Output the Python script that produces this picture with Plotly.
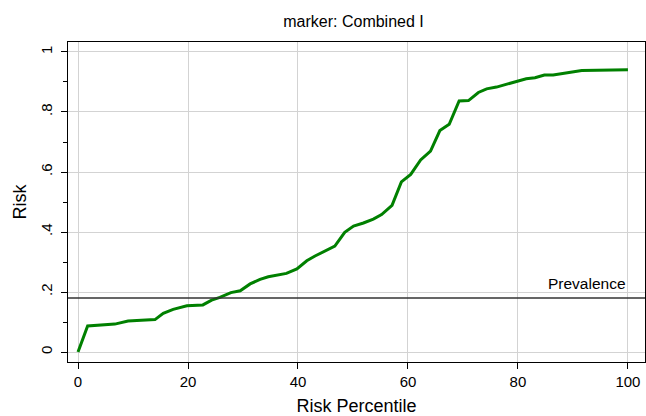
import plotly.graph_objects as go

percentile = [0, 1.75, 6.7, 9.1, 10.7, 14, 15.5, 17.3, 19.8, 22.7, 24.3, 25.8, 27.8, 29.5, 31.3,
              33.1, 34.6, 36.7, 37.9, 39.8, 41.6, 43.1, 44.6, 46.7, 48.5, 50.1, 51.9, 53.7, 55.2,
              57.1, 58.8, 60.5, 62.3, 64.1, 65.8, 67.5, 69.3, 71, 72.8, 74.3, 76.1, 77.9, 79.8,
              81.5, 83.1, 84.8, 86.4, 88.2, 90, 91.6, 100]
risk = [0, 0.087, 0.093, 0.103, 0.105, 0.108, 0.129, 0.142, 0.154, 0.157, 0.173, 0.182, 0.198,
        0.204, 0.227, 0.242, 0.251, 0.257, 0.262, 0.277, 0.304, 0.32, 0.334, 0.353, 0.399, 0.42,
        0.43, 0.443, 0.458, 0.489, 0.567, 0.592, 0.64, 0.67, 0.738, 0.759, 0.837, 0.838, 0.865,
        0.877, 0.883, 0.893, 0.902, 0.911, 0.914, 0.923, 0.923, 0.928, 0.934, 0.938, 0.941]
prevalence = 0.18
x_ticks = [0, 20, 40, 60, 80, 100]
y_ticks = [0, 0.2, 0.4, 0.6, 0.8, 1]
y_labels = ["0", ".2", ".4", ".6", ".8", "1"]

FONT = "Liberation Sans, Arial, sans-serif"

fig = go.Figure()
fig.add_trace(go.Scatter(x=percentile, y=risk, mode="lines",
                         line=dict(color="#008000", width=3), showlegend=False,
                         hoverinfo="skip"))
fig.add_hline(y=prevalence, line=dict(color="#333333", width=1.3))
fig.add_annotation(x=100, y=prevalence, text="Prevalence", showarrow=False,
                   xanchor="right", yanchor="bottom", yshift=4,
                   font=dict(size=15.5, color="black", family=FONT))

fig.update_layout(
    width=646, height=416,
    margin=dict(l=68, r=1, t=42, b=54),
    paper_bgcolor="white", plot_bgcolor="white",
    font=dict(family=FONT, color="black"),
    title=dict(text="marker: Combined I", x=353.5 / 646, xanchor="center",
               y=1 - 21 / 416, yanchor="middle",
               font=dict(size=16, family=FONT, color="black")),
    xaxis=dict(range=[-1.82, 103.1], tickvals=x_ticks, ticks="outside", ticklen=6,
               tickcolor="black", showline=True, linecolor="black", linewidth=1, mirror=True,
               showgrid=True, gridcolor="#d3d3d3", gridwidth=1, zeroline=False,
               tickfont=dict(size=15),
               title=dict(text="Risk Percentile", font=dict(size=18), standoff=10)),
    yaxis=dict(range=[-0.0333, 1.0333], tickvals=y_ticks, ticktext=y_labels,
               ticks="outside", ticklen=6, tickcolor="black", tickangle=-90,
               ticklabelstandoff=3,
               showline=True, linecolor="black", linewidth=1, mirror=True,
               showgrid=True, gridcolor="#d3d3d3", gridwidth=1, zeroline=False,
               tickfont=dict(size=15),
               minor=dict(tickvals=[0.1, 0.3, 0.5, 0.7, 0.9], ticks="outside", ticklen=4,
                          tickcolor="black", showgrid=False),
               title=dict(text="Risk", font=dict(size=18), standoff=6)),
)

fig.write_html("out.html")
